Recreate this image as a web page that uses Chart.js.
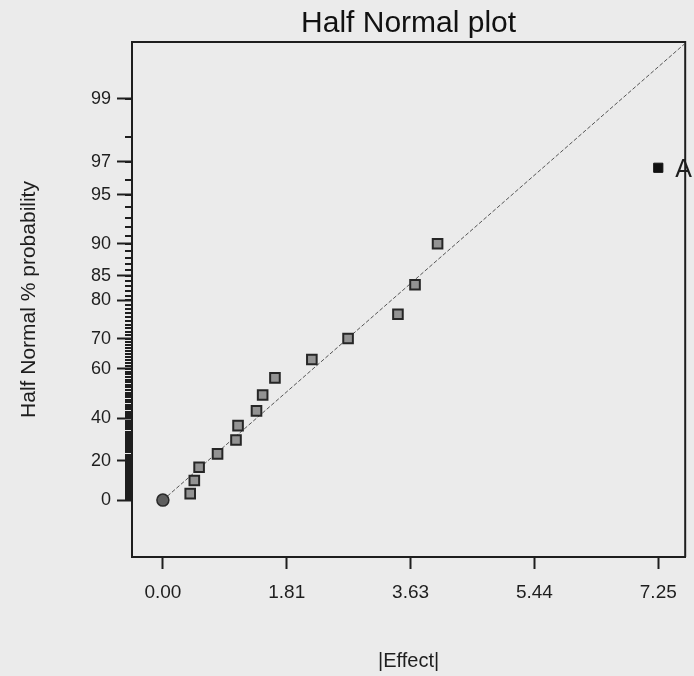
<!DOCTYPE html>
<html>
<head>
<meta charset="utf-8">
<script src="https://cdn.jsdelivr.net/npm/chart.js@4"></script>
<style>
  html, body { margin: 0; padding: 0; background: #ebebeb; }
  #wrap { width: 694px; height: 676px; }
</style>
</head>
<body>
<div id="wrap"><canvas id="halfnormal"></canvas></div>
<script>
// |effect| and half normal % probability of each term
const effects = [0.40, 0.46, 0.53, 0.80, 1.07, 1.10, 1.37, 1.46, 1.64, 2.18, 2.71, 3.44, 3.69, 4.02]
const probs = [3.3, 10.0, 16.7, 23.3, 30.0, 36.7, 43.3, 50.0, 56.7, 63.3, 70.0, 76.7, 83.3, 90.0]

// the significant term, drawn black and labelled
const sigEffects = [7.25]
const sigProbs = [96.7]
const sigNames = ['A']

const originEffect = [0]
const originProb = [0]

// dashed reference line
const lineEffect = [0, 7.64]
const lineProb = [0, 99.66]

const xTicks = [0, 1.8125, 3.625, 5.4375, 7.25]
const xTickLabels = ['0.00', '1.81', '3.63', '5.44', '7.25']
const yTicks = [0, 20, 40, 60, 70, 80, 85, 90, 95, 97, 99]

const FONT = 'Liberation Sans, Arial, sans-serif'
const INK = '#1e1e1e'

// inverse standard normal (Acklam)
function qnorm(p) {
  const a = [-3.969683028665376e+01, 2.209460984245205e+02, -2.759285104469687e+02, 1.383577518672690e+02, -3.066479806614716e+01, 2.506628277459239e+00]
  const b = [-5.447609879822406e+01, 1.615858368580409e+02, -1.556989798598866e+02, 6.680131188771972e+01, -1.328068155288572e+01]
  const c = [-7.784894002430293e-03, -3.223964580411365e-01, -2.400758277161838e+00, -2.549732539343734e+00, 4.374664141464968e+00, 2.938163982698783e+00]
  const d = [7.784695709041462e-03, 3.224671290700398e-01, 2.445134137142996e+00, 3.754408661907416e+00]
  const pl = 0.02425
  if (p < pl) {
    const q = Math.sqrt(-2 * Math.log(p))
    return (((((c[0]*q+c[1])*q+c[2])*q+c[3])*q+c[4])*q+c[5]) / ((((d[0]*q+d[1])*q+d[2])*q+d[3])*q+1)
  }
  if (p > 1 - pl) {
    const q = Math.sqrt(-2 * Math.log(1 - p))
    return -(((((c[0]*q+c[1])*q+c[2])*q+c[3])*q+c[4])*q+c[5]) / ((((d[0]*q+d[1])*q+d[2])*q+d[3])*q+1)
  }
  const q = p - 0.5, r = q * q
  return (((((a[0]*r+a[1])*r+a[2])*r+a[3])*r+a[4])*r+a[5])*q / (((((b[0]*r+b[1])*r+b[2])*r+b[3])*r+b[4])*r+1)
}
const halfNormal = pct => qnorm(0.5 + pct / 200)

const toPoints = (xs, ps) => xs.map((x, i) => ({x: x, y: halfNormal(ps[i])}))

// frame on top/right + the 1% minor ticks on the probability axis
const framePlugin = {
  id: 'frame',
  beforeDatasetsDraw(chart) {
    const {ctx, chartArea: a, scales} = chart
    ctx.save()
    ctx.strokeStyle = INK
    ctx.lineWidth = 2
    ctx.beginPath()
    ctx.moveTo(a.left, a.top)
    ctx.lineTo(a.right, a.top)
    ctx.lineTo(a.right, a.bottom)
    ctx.stroke()
    ctx.beginPath()
    for (let p = 0; p <= 99; p++) {
      const y = Math.round(scales.y.getPixelForValue(halfNormal(p)))
      ctx.moveTo(a.left - 7, y)
      ctx.lineTo(a.left, y)
    }
    ctx.stroke()
    ctx.restore()
  }
}

const namePlugin = {
  id: 'names',
  afterDatasetsDraw(chart) {
    const {ctx} = chart
    const meta = chart.getDatasetMeta(1)
    ctx.save()
    ctx.fillStyle = INK
    ctx.font = '25px ' + FONT
    ctx.textAlign = 'left'
    ctx.textBaseline = 'middle'
    meta.data.forEach((el, i) => ctx.fillText(sigNames[i], el.x + 17, el.y + 2))
    ctx.restore()
  }
}

new Chart(document.getElementById('halfnormal'), {
  type: 'scatter',
  data: {
    datasets: [
      {
        data: toPoints(effects, probs),
        pointStyle: 'rect',
        pointRadius: 6.8,
        pointBackgroundColor: '#939393',
        pointBorderColor: '#262626',
        pointBorderWidth: 2
      },
      {
        data: toPoints(sigEffects, sigProbs),
        pointStyle: 'rect',
        pointRadius: 6.5,
        pointBackgroundColor: '#111',
        pointBorderColor: '#111',
        pointBorderWidth: 1
      },
      {
        data: toPoints(originEffect, originProb),
        pointStyle: 'circle',
        pointRadius: 6,
        pointBackgroundColor: '#5e5e5e',
        pointBorderColor: '#2a2a2a',
        pointBorderWidth: 1.5
      },
      {
        type: 'line',
        data: toPoints(lineEffect, lineProb),
        borderColor: '#555',
        borderWidth: 1,
        borderDash: [4, 2],
        pointRadius: 0,
        fill: false
      }
    ]
  },
  options: {
    responsive: true,
    maintainAspectRatio: false,
    animation: false,
    events: [],
    layout: {padding: {left: 0, right: 7, top: 0, bottom: 0}},
    plugins: {
      legend: {display: false},
      tooltip: {enabled: false},
      title: {
        display: true,
        fullSize: false,
        text: 'Half Normal plot',
        color: '#111',
        font: {family: FONT, size: 30, weight: 'normal'},
        padding: {top: 6, bottom: 0}
      }
    },
    scales: {
      x: {
        type: 'linear',
        min: -0.452,
        max: 7.644,
        afterBuildTicks: s => { s.ticks = xTicks.map(v => ({value: v})) },
        afterFit: s => { s.height = 119 },
        ticks: {
          callback: (v, i) => xTickLabels[i],
          color: INK,
          font: {family: FONT, size: 19},
          padding: 12,
          maxRotation: 0,
          autoSkip: false
        },
        grid: {drawOnChartArea: false, tickLength: 12, tickColor: INK, tickWidth: 2},
        border: {color: INK, width: 2},
        title: {
          display: true,
          text: '|Effect|',
          color: INK,
          font: {family: FONT, size: 20},
          padding: {top: 0, bottom: 3}
        }
      },
      y: {
        type: 'linear',
        min: -0.365,
        max: 2.939,
        afterBuildTicks: s => { s.ticks = yTicks.map(p => ({value: halfNormal(p)})) },
        afterFit: s => { s.width = 132 },
        ticks: {
          callback: (v, i) => String(yTicks[i]),
          color: INK,
          font: {family: FONT, size: 18},
          padding: 6,
          autoSkip: false
        },
        grid: {drawOnChartArea: false, tickLength: 15, tickColor: INK, tickWidth: 2},
        border: {color: INK, width: 2},
        title: {
          display: true,
          text: 'Half Normal % probability',
          color: INK,
          font: {family: FONT, size: 21},
          padding: {top: 17, bottom: 0}
        }
      }
    }
  },
  plugins: [framePlugin, namePlugin]
})
</script>
</body>
</html>
